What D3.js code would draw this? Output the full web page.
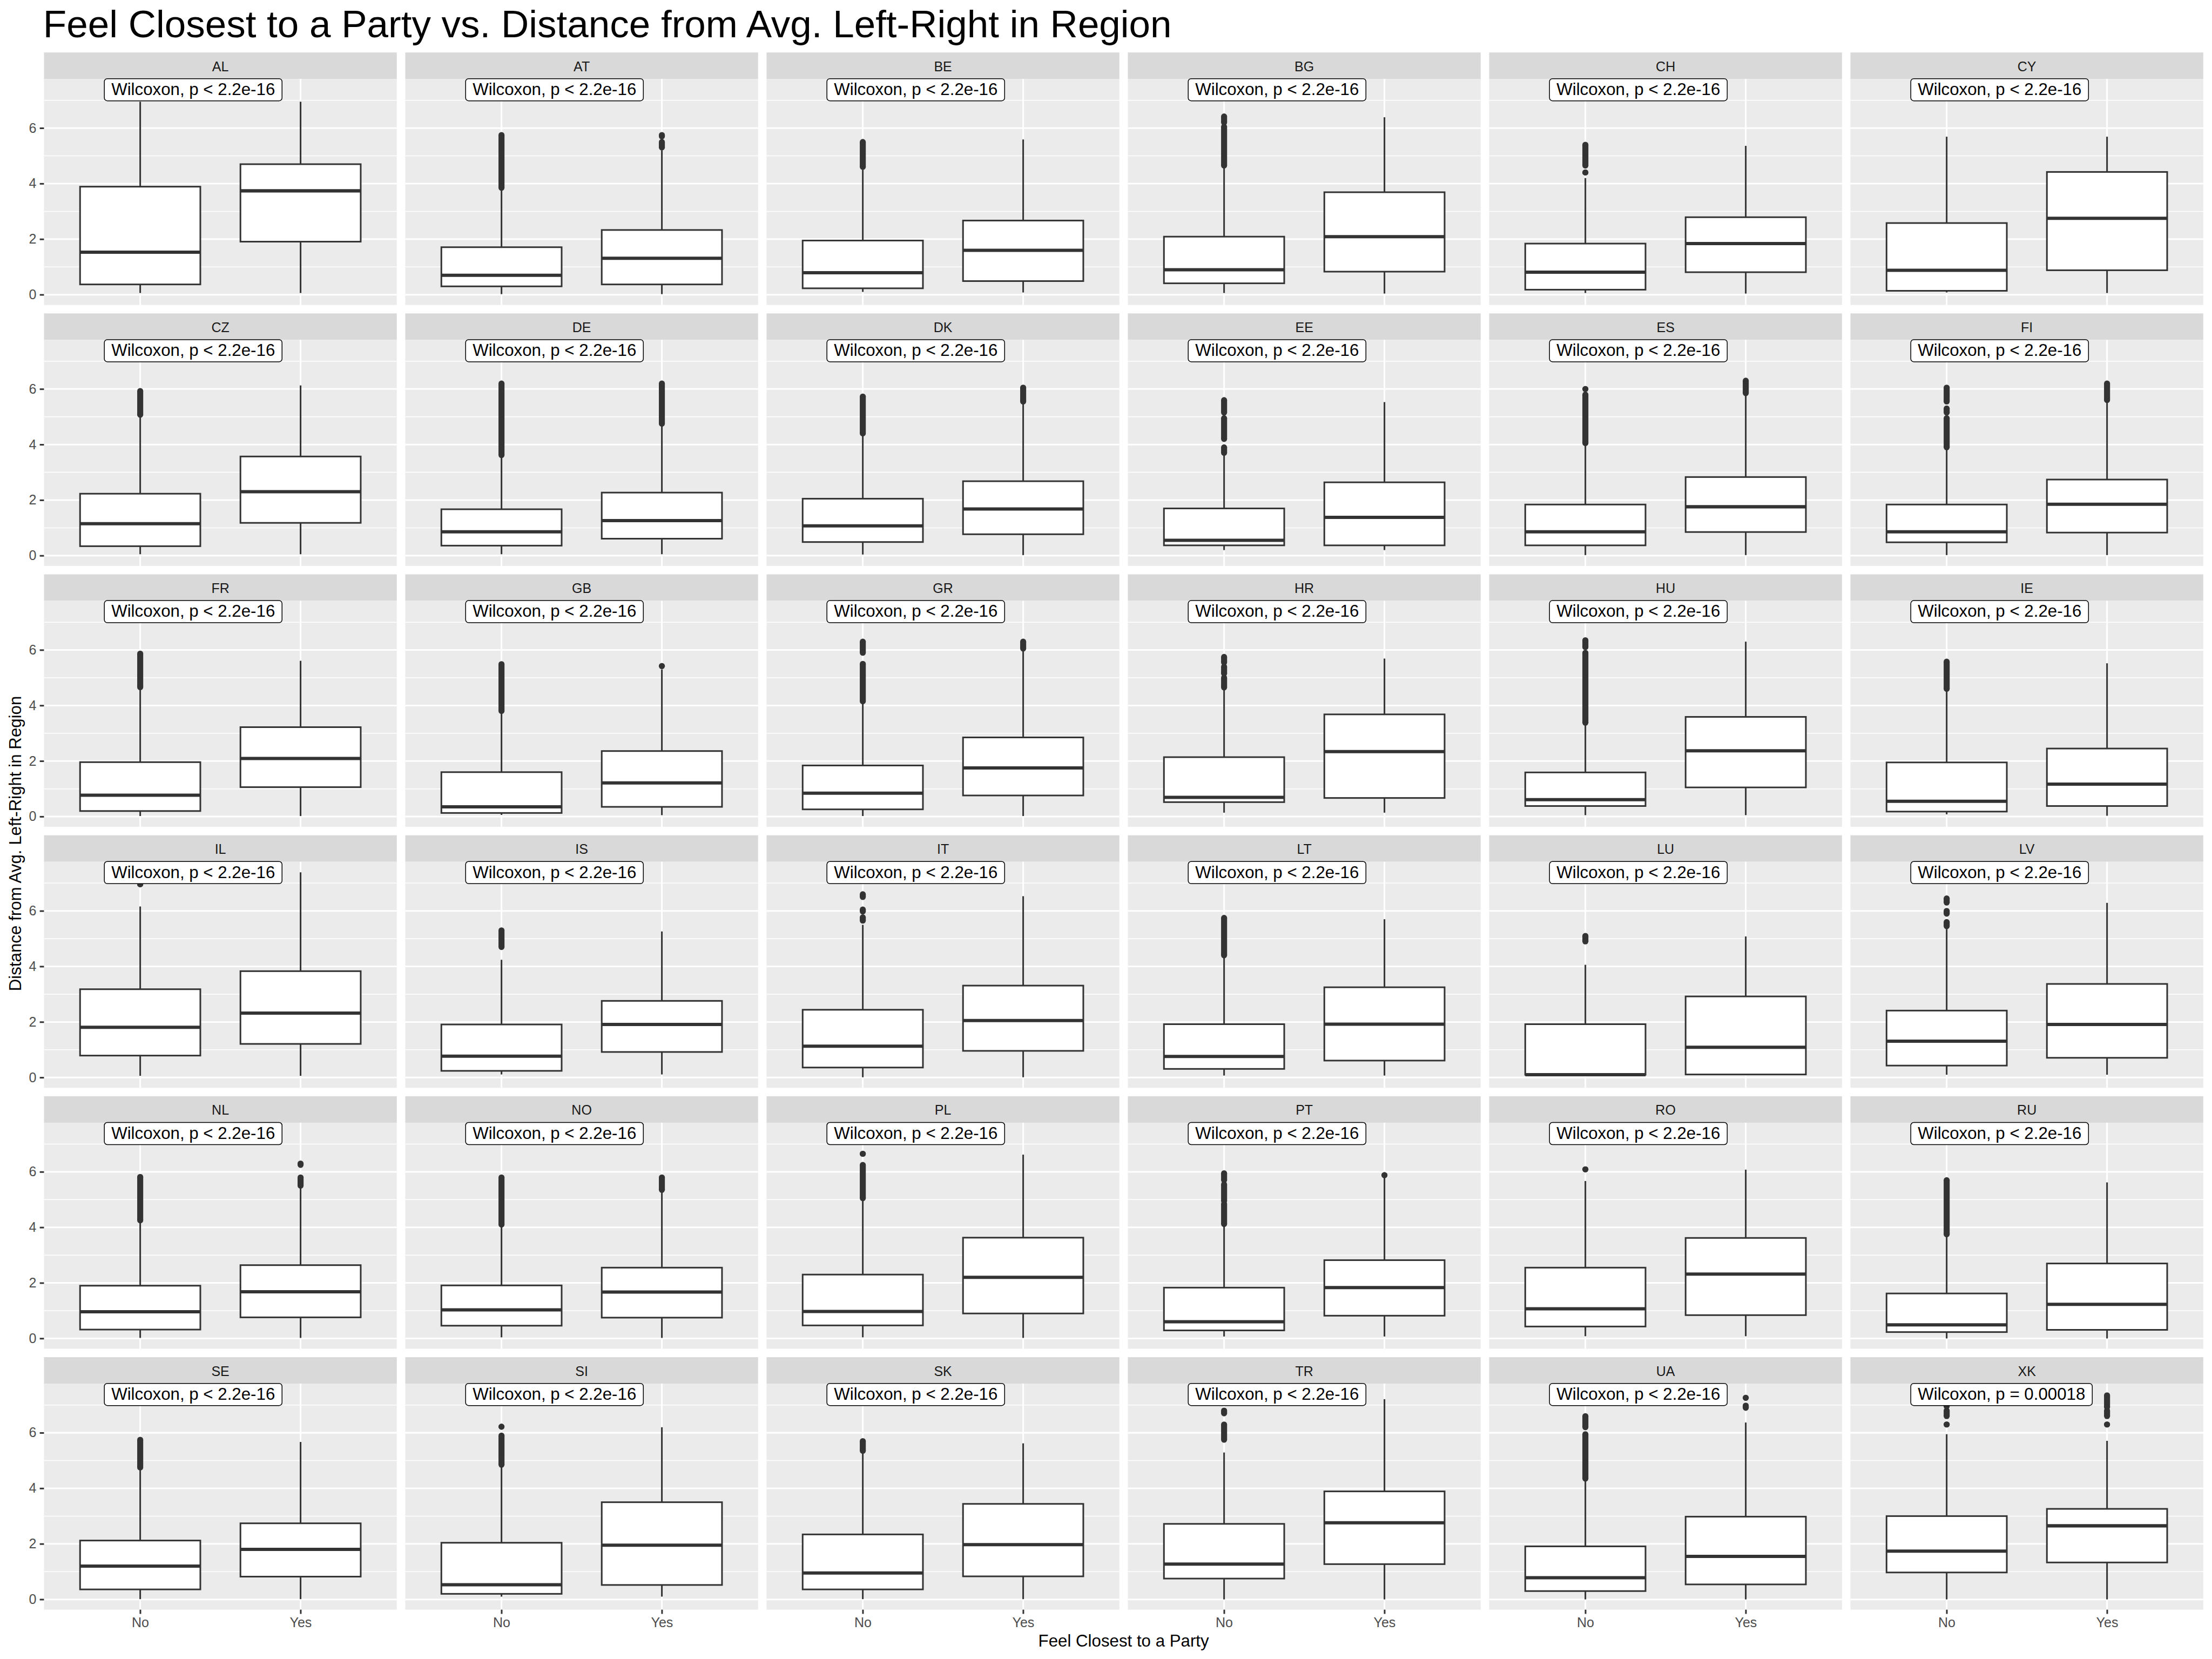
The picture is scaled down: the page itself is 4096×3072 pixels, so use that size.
<!DOCTYPE html>
<html>
<head>
<meta charset="utf-8">
<script src="https://cdn.jsdelivr.net/npm/d3@7"></script>
<style>html,body{margin:0;padding:0;background:#fff;}</style>
</head>
<body>
<script>
// ---------------- DATA ----------------
const countries = ["AL","AT","BE","BG","CH","CY","CZ","DE","DK","EE","ES","FI","FR","GB","GR","HR","HU","IE",
                   "IL","IS","IT","LT","LU","LV","NL","NO","PL","PT","RO","RU","SE","SI","SK","TR","UA","XK"];
const groups = ["No","Yes"];
const pLabels = countries.map(c => c === "XK" ? "Wilcoxon, p = 0.00018" : "Wilcoxon, p < 2.2e-16");

// [lower whisker, Q1, median, Q3, upper whisker]
const noStats = [
  [0.06,0.37,1.53,3.89,6.95],[0.02,0.30,0.70,1.71,3.80],[0.10,0.23,0.79,1.95,4.50],[0.06,0.41,0.90,2.09,4.60],[0.06,0.18,0.81,1.84,4.20],[0.08,0.14,0.88,2.58,5.69],
  [0.05,0.34,1.15,2.23,5.00],[0.05,0.36,0.86,1.67,3.57],[0.04,0.49,1.07,2.05,4.35],[0.20,0.37,0.55,1.70,3.60],[0.02,0.37,0.86,1.84,3.99],[0.02,0.48,0.86,1.84,3.87],
  [0.02,0.20,0.77,1.96,4.60],[0.06,0.13,0.35,1.60,3.75],[0.02,0.26,0.84,1.84,4.10],[0.14,0.52,0.69,2.14,4.57],[0.05,0.38,0.61,1.59,3.31],[0.08,0.18,0.55,1.95,4.57],
  [0.06,0.79,1.81,3.18,6.16],[0.11,0.24,0.77,1.91,4.24],[0.01,0.36,1.13,2.44,5.50],[0.07,0.31,0.76,1.92,4.33],[0.08,0.10,0.10,1.92,4.06],[0.10,0.43,1.31,2.41,5.35],
  [0.02,0.32,0.96,1.90,4.19],[0.04,0.46,1.03,1.91,4.01],[0.04,0.47,0.97,2.30,5.00],[0.07,0.29,0.60,1.83,4.07],[0.08,0.43,1.07,2.55,5.67],[0.00,0.23,0.49,1.62,3.69],
  [0.01,0.36,1.20,2.12,4.69],[0.10,0.20,0.53,2.04,4.81],[0.01,0.36,0.95,2.34,5.29],[0.00,0.75,1.27,2.72,5.29],[0.00,0.30,0.78,1.91,4.27],[0.00,0.97,1.74,3.00,5.95]
];
const yesStats = [
  [0.06,1.91,3.74,4.70,6.95],[0.02,0.37,1.31,2.33,5.20],[0.08,0.49,1.60,2.67,5.59],[0.04,0.83,2.09,3.69,6.39],[0.04,0.81,1.84,2.79,5.36],[0.06,0.88,2.75,4.42,5.69],
  [0.05,1.18,2.30,3.57,6.13],[0.05,0.61,1.26,2.27,4.70],[0.02,0.77,1.68,2.68,5.50],[0.20,0.37,1.38,2.64,5.53],[0.02,0.85,1.76,2.83,5.79],[0.02,0.83,1.85,2.74,5.55],
  [0.02,1.06,2.09,3.22,5.61],[0.05,0.35,1.21,2.36,5.30],[0.02,0.76,1.75,2.85,6.00],[0.14,0.67,2.34,3.68,5.69],[0.05,1.05,2.37,3.59,6.30],[0.03,0.38,1.17,2.45,5.52],
  [0.06,1.21,2.32,3.83,7.39],[0.11,0.92,1.91,2.76,5.26],[0.01,0.96,2.05,3.31,6.53],[0.07,0.61,1.92,3.25,5.70],[0.08,0.11,1.09,2.92,5.08],[0.10,0.71,1.91,3.37,6.29],
  [0.02,0.76,1.68,2.64,5.40],[0.02,0.75,1.67,2.55,5.28],[0.02,0.90,2.20,3.63,6.62],[0.07,0.82,1.83,2.82,5.80],[0.08,0.84,2.32,3.62,6.08],[0.00,0.31,1.23,2.70,5.62],
  [0.01,0.82,1.80,2.74,5.67],[0.10,0.52,1.95,3.50,6.20],[0.01,0.83,1.97,3.44,5.62],[0.00,1.27,2.76,3.89,7.21],[0.00,0.54,1.55,2.98,6.37],[0.00,1.33,2.65,3.26,5.71]
];
// outlier clusters: [lowest, highest] of a run of points
const noOutliers = [
  [],[[3.85,5.75]],[[4.6,5.5]],[[4.65,6.05],[6.2,6.42]],[[4.4,4.4],[4.65,5.4]],[],
  [[5.07,5.93]],[[3.62,6.2]],[[4.4,5.73]],[[3.7,3.9],[4.2,4.95],[5.15,5.6]],[[4.05,5.8],[6.0,6.0]],[[3.9,4.95],[5.15,5.3],[5.55,6.05]],
  [[4.66,5.87]],[[3.8,5.49]],[[4.15,5.5],[5.9,6.3]],[[4.65,5.0],[5.15,5.4],[5.55,5.75]],[[3.38,5.9],[6.1,6.35]],[[4.6,5.58]],
  [[6.96,6.96]],[[4.7,5.3]],[[5.65,5.77],[5.98,6.05],[6.5,6.6]],[[4.4,5.75]],[[4.9,5.1]],[[5.45,5.6],[5.9,6.0],[6.3,6.45]],
  [[4.25,5.82]],[[4.1,5.8]],[[5.05,6.25],[6.65,6.65]],[[4.12,4.85],[4.95,5.55],[5.7,5.95]],[[6.09,6.09]],[[3.75,5.7]],
  [[4.75,5.75]],[[4.85,5.9],[6.22,6.22]],[[5.35,5.7]],[[5.75,6.3],[6.7,6.8]],[[4.35,5.95],[6.2,6.6]],[[6.3,6.3],[6.6,6.8],[6.96,6.96]]
];
const yesOutliers = [
  [],[[5.3,5.5],[5.7,5.75]],[],[],[],[],
  [],[[4.75,6.2]],[[5.55,6.05]],[],[[5.85,6.3]],[[5.6,6.2]],
  [],[[5.42,5.42]],[[6.05,6.3]],[],[],[],
  [],[],[],[],[],[],
  [[5.5,5.8],[6.25,6.3]],[[5.35,5.8]],[],[[5.88,5.88]],[],[],
  [],[],[],[],[[6.9,6.98],[7.26,7.26]],[[6.3,6.3],[6.6,6.8],[6.92,7.35]]
];
const yTicks = [0,2,4,6];
const yMinor = [1,3,5,7];
const labelY = 7.38;
const titleText = "Feel Closest to a Party vs. Distance from Avg. Left-Right in Region";
const xTitle = "Feel Closest to a Party";
const yTitle = "Distance from Avg. Left-Right in Region";

// ---------------- DRAW ----------------
const FONT = "'Liberation Sans', Arial, Helvetica, sans-serif";
const S = 4096/6000;
const svg = d3.select("body").append("svg").attr("width",4096).attr("height",3072);
svg.append("rect").attr("width",4096).attr("height",3072).attr("fill","#ffffff");
const root = svg.append("g").attr("transform",`scale(${S})`);

const L0 = 119.3, colPitch = 980, PW = 957;
const T0 = 142.3, rowPitch = 707.8, SH = 71.8, PH = 613.1;
const LW = 4.4, R = 8.15;

const x = d3.scalePoint().domain(groups).range([0,PW]).padding(0.6);
const y = d3.scaleLinear().domain([-0.37,7.77]).range([PH,0]);
const bw = x.step()*0.75;

countries.forEach((c,i) => {
  const col = i % 6, row = Math.floor(i/6);
  const px = L0 + col*colPitch, st = T0 + row*rowPitch, py = st + SH;

  // strip
  root.append("rect").attr("x",px).attr("y",st).attr("width",PW).attr("height",SH).attr("fill","#D9D9D9");
  root.append("text").attr("x",px+PW/2).attr("y",st+SH/2).attr("dy","0.4em")
    .attr("text-anchor","middle").attr("font-family",FONT).attr("font-size",36.7).attr("fill","#1A1A1A").text(c);

  const g = root.append("g").attr("transform",`translate(${px},${py})`);
  g.append("rect").attr("width",PW).attr("height",PH).attr("fill","#EBEBEB");
  g.selectAll(".minor").data(yMinor).enter().append("line")
    .attr("x1",0).attr("x2",PW).attr("y1",d=>y(d)).attr("y2",d=>y(d))
    .attr("stroke","#fff").attr("stroke-width",LW/2);
  g.selectAll(".major").data(yTicks).enter().append("line")
    .attr("x1",0).attr("x2",PW).attr("y1",d=>y(d)).attr("y2",d=>y(d))
    .attr("stroke","#fff").attr("stroke-width",LW);
  g.selectAll(".vmajor").data(groups).enter().append("line")
    .attr("x1",d=>x(d)).attr("x2",d=>x(d)).attr("y1",0).attr("y2",PH)
    .attr("stroke","#fff").attr("stroke-width",LW);

  const stats = [noStats[i], yesStats[i]];
  const outs = [noOutliers[i], yesOutliers[i]];
  groups.forEach((gn,k) => {
    const s = stats[k], cx = x(gn);
    // outliers
    outs[k].forEach(([lo,hi]) => {
      g.append("rect").attr("x",cx-R).attr("y",y(hi)).attr("width",2*R).attr("height",Math.max(0,y(lo)-y(hi))).attr("fill","#333333");
      g.append("circle").attr("cx",cx).attr("cy",y(lo)).attr("r",R).attr("fill","#333333");
      g.append("circle").attr("cx",cx).attr("cy",y(hi)).attr("r",R).attr("fill","#333333");
    });
    // whiskers
    g.append("line").attr("x1",cx).attr("x2",cx).attr("y1",y(s[0])).attr("y2",y(s[1]))
      .attr("stroke","#333333").attr("stroke-width",LW);
    g.append("line").attr("x1",cx).attr("x2",cx).attr("y1",y(s[3])).attr("y2",y(s[4]))
      .attr("stroke","#333333").attr("stroke-width",LW);
    // box
    g.append("rect").attr("x",cx-bw/2).attr("y",y(s[3])).attr("width",bw).attr("height",y(s[1])-y(s[3]))
      .attr("fill","#ffffff").attr("stroke","#333333").attr("stroke-width",LW);
    g.append("line").attr("x1",cx-bw/2).attr("x2",cx+bw/2).attr("y1",y(s[2])).attr("y2",y(s[2]))
      .attr("stroke","#333333").attr("stroke-width",LW*2);
  });

  // Wilcoxon label
  const lg = g.append("g");
  const lbox = lg.append("rect");
  const ltext = lg.append("text").attr("font-family",FONT).attr("font-size",45.8).attr("fill","#000").text(pLabels[i]);
  const tl = ltext.node().getComputedTextLength();
  const bx = 163.7, by = y(labelY) - 30;
  lbox.attr("x",bx).attr("y",by).attr("width",tl+38).attr("height",60).attr("rx",8).attr("ry",8)
    .attr("fill","#fff").attr("stroke","#000").attr("stroke-width",2.2);
  ltext.attr("x",bx+19).attr("y",by+44.5);

  // axes
  if (col === 0) {
    const ya = g.append("g").call(d3.axisLeft(y).tickValues(yTicks).tickSize(11.46).tickPadding(9.2));
    ya.select(".domain").remove();
    ya.attr("font-family",FONT).attr("font-size",36.7);
    ya.selectAll("line").attr("stroke","#333333").attr("stroke-width",LW);
    ya.selectAll("text").attr("fill","#4D4D4D");
  }
  if (row === 5) {
    const xa = g.append("g").attr("transform",`translate(0,${PH})`)
      .call(d3.axisBottom(x).tickSize(11.46).tickPadding(9.2));
    xa.select(".domain").remove();
    xa.attr("font-family",FONT).attr("font-size",36.7);
    xa.selectAll("line").attr("stroke","#333333").attr("stroke-width",LW);
    xa.selectAll("text").attr("fill","#4D4D4D");
  }
});

// titles
root.append("text").attr("x",117).attr("y",100.5).attr("font-family",FONT).attr("font-size",104)
  .attr("fill","#000").text(titleText);
root.append("text").attr("x",L0 + (5*colPitch+PW)/2).attr("y",4467).attr("text-anchor","middle")
  .attr("font-family",FONT).attr("font-size",45.8).attr("fill","#000").text(xTitle);
root.append("text").attr("transform","translate(57,2288) rotate(-90)").attr("text-anchor","middle")
  .attr("font-family",FONT).attr("font-size",45.8).attr("fill","#000").text(yTitle);
</script>
</body>
</html>
